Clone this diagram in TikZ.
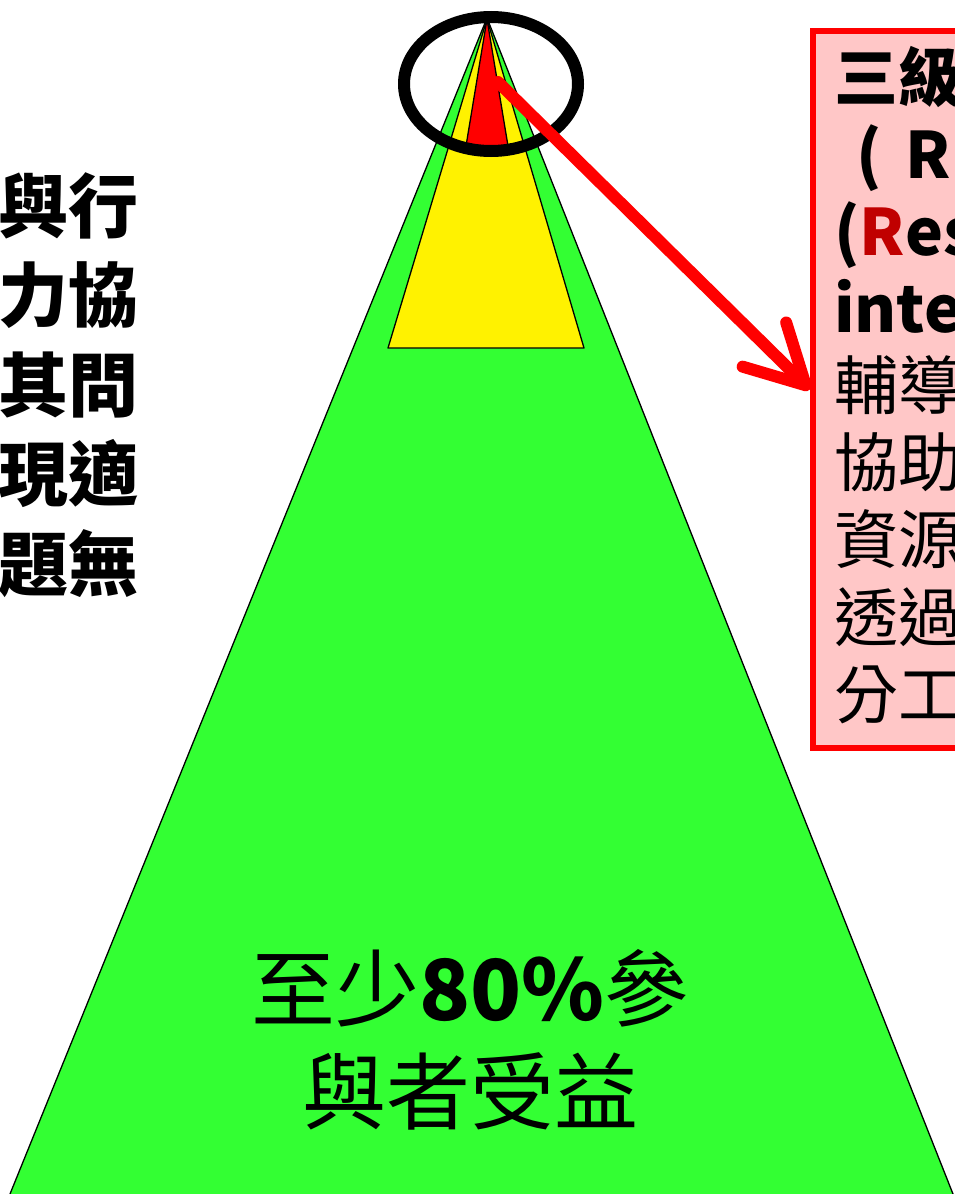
\documentclass[tikz,border=0pt]{standalone}
\usepackage{fontspec}
\newfontfamily\cjk{Noto Sans CJK TC}
\usetikzlibrary{arrows.meta}
\definecolor{grass}{RGB}{51,255,51}
\definecolor{blush}{RGB}{255,199,199}
\definecolor{deepred}{RGB}{192,0,0}

\begin{document}
\begin{tikzpicture}[x=1pt, y=-1pt,
	tier/.style = {draw=black, line width=1.3pt, line join=round},
	ring/.style = {draw=black, line width=12pt},
	pointer/.style = {draw=red, line width=12pt, line cap=round, -{Straight Barb[length=58pt, width=62pt, round]}},
	panel/.style = {draw=red, fill=blush, line width=6pt, minimum width=180pt, minimum height=717pt, inner sep=0, anchor=north west},
	side/.style = {font=\cjk\bfseries\fontsize{70}{89.5}\selectfont, align=right, inner sep=0},
	panetext/.style = {font=\cjk\fontsize{64}{77.1}\selectfont, align=left, inner sep=0},
	basetext/.style = {font=\cjk\fontsize{84}{103}\selectfont, align=center, inner sep=0}]
	\useasboundingbox (0,0) rectangle (955,1194);
	% pyramid
	\fill[grass] (487,18) -- (10,1194) -- (953,1194) -- cycle;
	\draw[tier] (10,1194) -- (487,18) -- (953,1194);
	\filldraw[tier, fill=yellow] (487,19) -- (388,348) -- (584,348) -- cycle;
	\filldraw[tier, fill=red] (487,19) -- (466,146) -- (508,146) -- cycle;
	\draw[ring] (491,84) ellipse [x radius=87pt, y radius=67pt];
	% box on the right
	\node[panel] (box) at (810,28) {};
	\coordinate (core) at (498,82);
	\draw[pointer] (core) -- (box.west);
	\node[panetext, anchor=north west] (tier3) at (834,46) {\textbf{三級}\\\hspace*{22pt}\textbf{(\hspace{24pt}R}\\\textbf{(\textcolor{deepred}{R}es}\\\textbf{integ}\\輔導\\協助\\資源\\透過\\分工};
	% texts
	\node[side, anchor=east] (duty) at (139,385) {與行\\力協\\其問\\現適\\題無};
	\node[basetext] (gain) at (470,1040) {至少\textbf{80\%}參\\與者受益};
\end{tikzpicture}
\end{document}
